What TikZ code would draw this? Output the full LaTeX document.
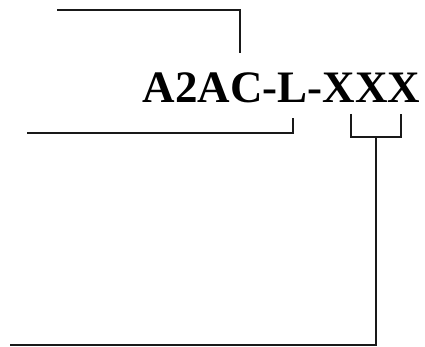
\documentclass[tikz,border=0pt]{standalone}
\usepackage{fontspec}
\setmainfont{Liberation Serif}
\usepackage{tikz}
\tikzset{
    code-text/.style = {font=\bfseries\fontsize{45}{50}\selectfont, inner sep=0pt, anchor=base west},
    lead-line/.style = {draw=black!90, line width=2pt},
}

\begin{document}
\begin{tikzpicture}[x=1pt, y=-1pt]
\useasboundingbox (0,0) rectangle (425,347);
\node [code-text] (code) at (142.5,102.5) {A2AC-L-XXX};
% free ends of the lead lines
\coordinate (top-end) at (57,10.5);
\coordinate (top-tip) at (240,53);
\coordinate (mid-end) at (27,133);
\coordinate (mid-tip) at (293,118);
\coordinate (br-left) at (351,114);
\coordinate (br-right) at (401,114);
\coordinate (br-mid) at (376,137.5);
\coordinate (low-end) at (10,345);
\draw [lead-line] (top-end) -| (top-tip);
\draw [lead-line] (mid-end) -| (mid-tip);
\draw [lead-line] (br-left) |- (br-mid) -| (br-right);
\draw [lead-line] (br-mid) |- (low-end);
\end{tikzpicture}
\end{document}
